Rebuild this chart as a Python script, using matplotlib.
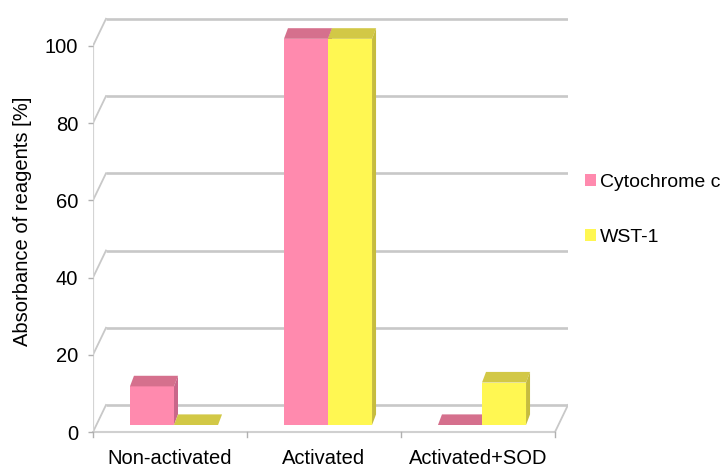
import numpy as np
import matplotlib
matplotlib.use("Agg")
import matplotlib.pyplot as plt
from matplotlib.patches import Polygon, Patch

plt.rcParams["font.family"] = ["Liberation Sans", "DejaVu Sans"]

categories = ["Non-activated", "Activated", "Activated+SOD"]
series_names = ["Cytochrome c", "WST-1"]
cyt_c = [10, 100, 0]
wst1 = [0, 100, 11]
yticks = [0, 20, 40, 60, 80, 100]

face = {"Cytochrome c": "#ff8aae", "WST-1": "#fff752"}
top = {"Cytochrome c": "#d5708d", "WST-1": "#d2c846"}
side = {"Cytochrome c": "#c9678a", "WST-1": "#c6bc3e"}
grid_c = "#c8c8c8"

W, H = 726, 472
fig = plt.figure(figsize=(W / 100, H / 100), dpi=100)

# front plane: x=-0.5 at px 93, 154 px per category; value 0 at px 432, 3.862 px per unit
px_cat, px_val = 154.0, 3.862
x0_px, y0_px = 93, 432
right_px, top_px = 568, 10
ax = fig.add_axes([x0_px / W, (H - y0_px) / H,
                   (right_px - x0_px) / W, (y0_px - top_px) / H])
ax.set_xlim(-0.5, -0.5 + (right_px - x0_px) / px_cat)
ax.set_ylim(0, (y0_px - top_px) / px_val)
for s in ax.spines.values():
    s.set_visible(False)

# depth of the chart box and of the bars, in data units
dx, dy = 13 / px_cat, 27 / px_val
fdx, fdy = 4 / px_cat, 7 / px_val
bdx, bdy = 4 / px_cat, 10.6 / px_val
n = len(categories)
xl, xr = -0.5, n - 0.5

# back wall gridlines and the side-wall connectors
for v in yticks:
    ax.plot([xl + dx, xr + dx], [v + dy, v + dy], color=grid_c, lw=1.9,
            solid_capstyle="butt", zorder=1)
    ax.plot([xl, xl + dx], [v, v + dy], color=grid_c, lw=1.3, zorder=1)
ax.plot([xl, xl], [0, yticks[-1]], color="#d4d4d4", lw=1.6, zorder=1)
# floor front edge and right edge
ax.plot([xl, xr], [0, 0], color="#d0d0d0", lw=1.5, zorder=1, clip_on=False)
ax.plot([xr, xr + dx], [0, dy], color=grid_c, lw=1.3, zorder=1)
for b in np.arange(xl, xr + 0.01, 1.0):
    ax.plot([b, b], [0, -1.4], color="#b0b0b0", lw=1.0, clip_on=False, zorder=1)

bar_w = 0.286
x = np.arange(n)
for i in range(n):
    for j, (name, vals) in enumerate(zip(series_names, [cyt_c, wst1])):
        v = vals[i]
        left = x[i] + fdx - bar_w + j * bar_w
        base = fdy
        ax.bar(left, v, width=bar_w, bottom=base, align="edge",
               color=face[name], lw=0, zorder=3)
        topf = [(left, base + v), (left + bar_w, base + v),
                (left + bar_w + bdx, base + v + bdy), (left + bdx, base + v + bdy)]
        ax.add_patch(Polygon(topf, closed=True, fc=top[name], ec="none", zorder=3))
        if v > 0:
            sidef = [(left + bar_w, base), (left + bar_w, base + v),
                     (left + bar_w + bdx, base + v + bdy), (left + bar_w + bdx, base + bdy)]
            ax.add_patch(Polygon(sidef, closed=True, fc=side[name], ec="none", zorder=3))

ax.set_yticks(yticks)
ax.set_yticklabels([str(t) for t in yticks])
ax.set_xticks(x)
ax.set_xticklabels(categories)
ax.tick_params(axis="y", length=3.6, width=1.0, color="#b0b0b0", pad=7, labelsize=14.5)
ax.tick_params(axis="x", length=0, pad=12.5, labelsize=14.5)
ax.set_ylabel("Absorbance of reagents [%]", fontsize=14.5, labelpad=9)

handles = [Patch(facecolor=face[s], edgecolor="none") for s in series_names]
fig.legend(handles, series_names, loc="upper left",
           bbox_to_anchor=(585 / W, 1 - 174 / H), bbox_transform=fig.transFigure,
           frameon=False, fontsize=14, borderpad=0, borderaxespad=0,
           handlelength=0.55, handleheight=0.55, handletextpad=0.2,
           labelspacing=1.95)

fig.savefig("out.png", dpi=100)
